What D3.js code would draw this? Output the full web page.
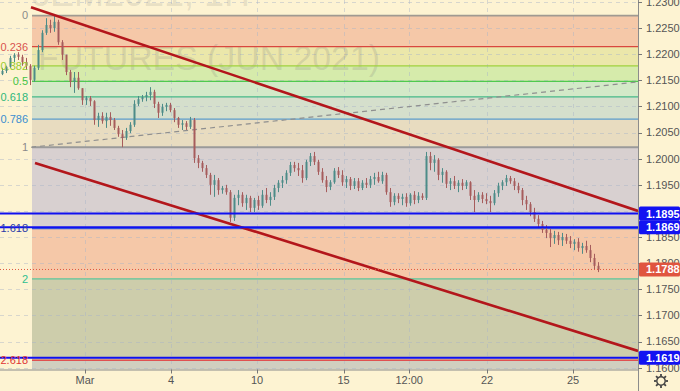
<!DOCTYPE html>
<html><head><meta charset="utf-8">
<script src="https://cdn.jsdelivr.net/npm/d3@7/dist/d3.min.js"></script>
<style>html,body{margin:0;padding:0;background:#fdf3d2;overflow:hidden}svg{display:block;font-family:"Liberation Sans",Arial,sans-serif}</style>
</head><body><svg id="c" width="680" height="391"></svg>
<script>
// ---------- data ----------
const closes=[1.2168,1.2176,1.2193,1.2199,1.2195,1.2185,1.2178,1.2151,1.2174,1.2208,
1.2241,1.2256,1.2250,1.2262,1.2223,1.2199,1.2166,1.2147,1.2155,1.2135,
1.2112,1.2116,1.2110,1.2074,1.2082,1.2072,1.2080,1.2074,1.2059,1.2047,
1.2040,1.2053,1.2065,1.2105,1.2114,1.2118,1.2122,1.2128,1.2105,1.2088,
1.2099,1.2103,1.2093,1.2078,1.2065,1.2068,1.2061,1.2074,1.2001,1.1992,
1.1982,1.1969,1.1950,1.1959,1.1940,1.1944,1.1936,1.1887,1.1925,1.1931,
1.1915,1.1925,1.1906,1.1921,1.1910,1.1931,1.1921,1.1927,1.1944,1.1954,
1.1959,1.1973,1.1988,1.1982,1.1978,1.1963,1.1994,1.2005,1.1994,1.1975,
1.1959,1.1946,1.1955,1.1977,1.1969,1.1955,1.1961,1.1948,1.1957,1.1944,
1.1954,1.1950,1.1961,1.1965,1.1957,1.1969,1.1936,1.1917,1.1929,1.1923,
1.1927,1.1915,1.1931,1.1921,1.1929,1.1925,1.2005,1.1992,1.1998,1.1969,
1.1975,1.1952,1.1957,1.1948,1.1954,1.1948,1.1955,1.1929,1.1921,1.1931,
1.1923,1.1919,1.1915,1.1934,1.1948,1.1955,1.1963,1.1957,1.1948,1.1940,
1.1921,1.1913,1.1898,1.1885,1.1875,1.1864,1.1858,1.1848,1.1854,1.1844,
1.1850,1.1843,1.1837,1.1841,1.1829,1.1833,1.1825,1.1810,1.1795,1.1788];
const opens=[1.2162,1.2168,1.2176,1.2193,1.2199,1.2195,1.2185,1.2178,1.2151,1.2174,
1.2208,1.2241,1.2256,1.2250,1.2262,1.2223,1.2199,1.2166,1.2147,1.2155,
1.2135,1.2112,1.2116,1.2110,1.2074,1.2082,1.2072,1.2080,1.2074,1.2059,
1.2047,1.2040,1.2053,1.2065,1.2105,1.2114,1.2118,1.2122,1.2128,1.2105,
1.2088,1.2099,1.2103,1.2093,1.2078,1.2065,1.2068,1.2061,1.2074,1.2001,
1.1992,1.1982,1.1969,1.1950,1.1959,1.1940,1.1944,1.1936,1.1887,1.1925,
1.1931,1.1915,1.1925,1.1906,1.1921,1.1910,1.1931,1.1921,1.1927,1.1944,
1.1954,1.1959,1.1973,1.1988,1.1982,1.1978,1.1963,1.1994,1.2005,1.1994,
1.1975,1.1959,1.1946,1.1955,1.1977,1.1969,1.1955,1.1961,1.1948,1.1957,
1.1944,1.1954,1.1950,1.1961,1.1965,1.1957,1.1969,1.1936,1.1917,1.1929,
1.1923,1.1927,1.1915,1.1931,1.1921,1.1929,1.1925,1.2005,1.1992,1.1998,
1.1969,1.1975,1.1952,1.1957,1.1948,1.1954,1.1948,1.1955,1.1929,1.1921,
1.1931,1.1923,1.1919,1.1915,1.1934,1.1948,1.1955,1.1963,1.1957,1.1948,
1.1940,1.1921,1.1913,1.1898,1.1885,1.1875,1.1864,1.1858,1.1848,1.1854,
1.1844,1.1850,1.1843,1.1837,1.1841,1.1829,1.1833,1.1825,1.1810,1.1795];
const highs=[1.2174,1.2178,1.2197,1.2202,1.2204,1.2199,1.2193,1.2181,1.2178,1.2218,
1.2246,1.2269,1.2266,1.2273,1.2266,1.2227,1.2199,1.2170,1.2166,1.2166,
1.2135,1.2120,1.2120,1.2112,1.2088,1.2089,1.2088,1.2089,1.2078,1.2063,
1.2055,1.2059,1.2070,1.2112,1.2120,1.2122,1.2128,1.2137,1.2132,1.2109,
1.2105,1.2107,1.2107,1.2097,1.2080,1.2074,1.2072,1.2080,1.2078,1.2007,
1.1996,1.1988,1.1973,1.1969,1.1963,1.1948,1.1950,1.1940,1.1931,1.1940,
1.1936,1.1931,1.1929,1.1925,1.1929,1.1940,1.1944,1.1936,1.1950,1.1959,
1.1967,1.1978,1.1994,1.1994,1.1992,1.1988,1.1998,1.2011,1.2013,1.1998,
1.1982,1.1967,1.1959,1.1982,1.1984,1.1978,1.1967,1.1965,1.1963,1.1963,
1.1959,1.1963,1.1967,1.1973,1.1975,1.1975,1.1973,1.1944,1.1934,1.1934,
1.1933,1.1934,1.1934,1.1938,1.1936,1.1934,1.2013,1.2013,1.2007,1.2001,
1.1982,1.1978,1.1963,1.1967,1.1959,1.1961,1.1959,1.1957,1.1940,1.1936,
1.1936,1.1934,1.1929,1.1940,1.1954,1.1959,1.1969,1.1967,1.1963,1.1954,
1.1944,1.1929,1.1917,1.1906,1.1892,1.1881,1.1873,1.1866,1.1862,1.1860,
1.1858,1.1856,1.1852,1.1846,1.1848,1.1839,1.1843,1.1835,1.1818,1.1802];
const lows=[1.2160,1.2164,1.2174,1.2185,1.2189,1.2178,1.2170,1.2141,1.2147,1.2170,
1.2204,1.2237,1.2241,1.2243,1.2218,1.2189,1.2160,1.2137,1.2126,1.2132,
1.2103,1.2103,1.2101,1.2065,1.2061,1.2067,1.2059,1.2063,1.2055,1.2042,
1.2022,1.2036,1.2049,1.2061,1.2101,1.2109,1.2110,1.2112,1.2097,1.2078,
1.2082,1.2091,1.2089,1.2070,1.2059,1.2055,1.2055,1.2057,1.1992,1.1982,
1.1975,1.1963,1.1931,1.1927,1.1931,1.1933,1.1931,1.1879,1.1881,1.1911,
1.1908,1.1902,1.1898,1.1898,1.1902,1.1906,1.1915,1.1910,1.1921,1.1936,
1.1944,1.1952,1.1967,1.1975,1.1967,1.1954,1.1959,1.1986,1.1988,1.1969,
1.1954,1.1936,1.1940,1.1952,1.1963,1.1948,1.1944,1.1940,1.1942,1.1938,
1.1940,1.1944,1.1944,1.1950,1.1954,1.1952,1.1931,1.1908,1.1911,1.1915,
1.1911,1.1908,1.1910,1.1913,1.1915,1.1921,1.1921,1.1978,1.1975,1.1959,
1.1954,1.1944,1.1940,1.1942,1.1936,1.1940,1.1942,1.1921,1.1898,1.1917,
1.1915,1.1913,1.1898,1.1911,1.1927,1.1940,1.1948,1.1952,1.1940,1.1934,
1.1911,1.1902,1.1890,1.1879,1.1867,1.1858,1.1848,1.1831,1.1837,1.1835,
1.1833,1.1837,1.1829,1.1825,1.1822,1.1818,1.1820,1.1802,1.1787,1.1783];

const priceTicks=[1.2300,1.2250,1.2200,1.2150,1.2100,1.2050,1.2000,1.1950,1.1900,1.1850,1.1800,1.1750,1.1700,1.1650,1.1600];
const timeTickBars=[20.75,42.25,63.75,85.4,101.8,121.25,142.75];
const timeTickLabels=["Mar","4","10","15","12:00","22","25"];

const fibHigh=1.2274, fibLow=1.2022, fibStartBar=7.5;
const fibLevels=[0,0.236,0.382,0.5,0.618,0.786,1,1.618,2,2.618];
const fibLabels=["0","0.236","0.382","0.5","0.618","0.786","1","1.618","2","2.618"];
const fibLineColors=["#a09a92","#d9473f","#9fd13c","#4fc94f","#44b888","#5a9ccc","#9a9a9a","#3d5fd8","#5cc49a","#e05050"];
const fibTextColors=["#8a8a8a","#d9534f","#9acb2e","#44c444","#2eb87a","#3a8ed0","#8a8a8a","#2a3aa8","#2ec090","#e03434"];
const fibZoneFills=["#f5c8a8","#ebe7aa","#d6ebab","#d3e9c8","#d5dfcc","#e8dcc0","#d8d0d0","#f5c8a8","#cdcdab","#d0cec0"];

const channelUpper=[[7.25,1.2290],[159,1.1900]];
const channelLower=[[8.25,1.1992],[159,1.1632]];
const dashedTrend=[[7.25,1.2022],[159,1.2147]];
const blueLevels=[1.1895,1.1869,1.1619];
const lastPrice=1.1788;
const watermark1="6EM2021, 1H", watermark2="FUTURES (JUN 2021)";

// ---------- layout ----------
const W=680,H=391, plotR=638, plotB=369.5;
const svg=d3.select("#c");
const x=d3.scaleLinear().domain([0,149]).range([2,598]);
const y=d3.scaleLinear().domain([1.16,1.23]).range([367.7,2]);

svg.append("rect").attr("width",W).attr("height",H).attr("fill","#fdf3d2");
svg.append("defs").append("clipPath").attr("id","pc").append("rect").attr("x",0).attr("y",0).attr("width",plotR).attr("height",plotB);
const g=svg.append("g").attr("clip-path","url(#pc)");

const fibPrice=l=>fibHigh-(fibHigh-fibLow)*l;
const fx0=x(fibStartBar);
fibLevels.forEach((l,i)=>{
  const top=y(fibPrice(l));
  const bot= i<fibLevels.length-1 ? y(fibPrice(fibLevels[i+1])) : plotB;
  g.append("rect").attr("x",fx0).attr("y",top).attr("width",plotR-fx0).attr("height",bot-top).attr("fill",fibZoneFills[i]);
});

const grid=g.append("g").attr("stroke","#a9b3c8").attr("stroke-opacity",0.45).attr("stroke-dasharray","4,4").attr("stroke-width",1);
priceTicks.forEach(p=>grid.append("line").attr("x1",0).attr("x2",plotR).attr("y1",Math.round(y(p))+0.5).attr("y2",Math.round(y(p))+0.5));
timeTickBars.forEach(b=>grid.append("line").attr("y1",0).attr("y2",plotB).attr("x1",Math.round(x(b))+0.5).attr("x2",Math.round(x(b))+0.5));

// watermark (top line mostly cut off by the top edge, as in the reference)
g.append("text").attr("x",140).attr("y",6).attr("text-anchor","middle").attr("font-size",36).attr("fill","#7a7a7a").attr("fill-opacity",0.18).text(watermark1);
g.append("text").attr("x",38).attr("y",70).attr("font-size",35).attr("textLength",342).attr("lengthAdjust","spacingAndGlyphs").attr("fill","#7a7a7a").attr("fill-opacity",0.2).text(watermark2);

fibLevels.forEach((l,i)=>{
  const yy=y(fibPrice(l));
  g.append("line").attr("x1",fx0).attr("x2",plotR).attr("y1",yy).attr("y2",yy).attr("stroke",fibLineColors[i]).attr("stroke-width",(i===0||i===6)?1.8:1.3);
});

const line=d3.line().x(d=>x(d[0])).y(d=>y(d[1]));
g.append("path").attr("d",line(dashedTrend)).attr("stroke","#8f8f8f").attr("stroke-width",1.2).attr("stroke-dasharray","5,4").attr("fill","none");

const up="#4d8c88", dn="#a65c5c";
closes.forEach((c,i)=>{
  const o=opens[i], cx=Math.round(x(i));
  const col=c>=o?up:dn;
  g.append("line").attr("x1",cx+0.5).attr("x2",cx+0.5).attr("y1",y(highs[i])).attr("y2",y(lows[i])).attr("stroke",col).attr("stroke-width",1);
  const t=y(Math.max(o,c)), b=y(Math.min(o,c));
  g.append("rect").attr("x",cx-0.5).attr("y",t).attr("width",2).attr("height",Math.max(1,b-t)).attr("fill",col);
});

[channelUpper,channelLower].forEach(d=>g.append("path").attr("d",line(d)).attr("stroke","#b3161b").attr("stroke-width",2.6).attr("fill","none"));

blueLevels.forEach(p=>g.append("line").attr("x1",0).attr("x2",plotR).attr("y1",y(p)).attr("y2",y(p)).attr("stroke","#1010f0").attr("stroke-width",2));

g.append("line").attr("x1",0).attr("x2",plotR).attr("y1",y(lastPrice)).attr("y2",y(lastPrice)).attr("stroke","#e0583f").attr("stroke-width",1).attr("stroke-dasharray","1,2");

fibLevels.forEach((l,i)=>{
  svg.append("text").attr("x",28).attr("y",y(fibPrice(l))).attr("dy","0.35em").attr("text-anchor","end").attr("font-size",11).attr("fill",fibTextColors[i]).text(fibLabels[i]);
});

// axes
svg.append("line").attr("x1",plotR+0.5).attr("x2",plotR+0.5).attr("y1",0).attr("y2",H).attr("stroke","#8c8c8c");
svg.append("line").attr("x1",0).attr("x2",plotR).attr("y1",plotB+0.5).attr("y2",plotB+0.5).attr("stroke","#8c8c8c");
const tagPrices=[lastPrice].concat(blueLevels);
priceTicks.forEach(p=>{
  const yy=Math.round(y(p))+0.5;
  svg.append("line").attr("x1",plotR).attr("x2",plotR+4).attr("y1",yy).attr("y2",yy).attr("stroke","#777");
  // labels fully hidden behind a price tag in the reference are not drawn
  if(tagPrices.some(t=>Math.abs(y(t)-y(p))<5)) return;
  svg.append("text").attr("x",646).attr("y",y(p)).attr("dy","0.35em").attr("font-size",11).attr("fill","#555").text(d3.format(".4f")(p));
});
timeTickBars.forEach((b,i)=>{
  const xx=Math.round(x(b))+0.5;
  svg.append("line").attr("x1",xx).attr("x2",xx).attr("y1",plotB).attr("y2",plotB+4).attr("stroke","#777");
  svg.append("text").attr("x",x(b)).attr("y",384).attr("text-anchor","middle").attr("font-size",11).attr("fill","#555").text(timeTickLabels[i]);
});

function tag(p,color){
  const yy=y(p);
  svg.append("rect").attr("x",plotR+1).attr("y",yy-7).attr("width",W-plotR-1).attr("height",14).attr("rx",1.5).attr("fill",color);
  svg.append("text").attr("x",646).attr("y",yy).attr("dy","0.36em").attr("font-size",11).attr("font-weight","bold").attr("fill","#fff").text(d3.format(".4f")(p));
}
tag(lastPrice,"#e0553f");
blueLevels.forEach(p=>tag(p,"#1212f2"));

const gear=svg.append("g").attr("transform","translate(661,381)").attr("stroke","#444").attr("fill","none");
gear.append("circle").attr("r",4.2).attr("stroke-width",1.4);
d3.range(8).forEach(k=>{const a=k*Math.PI/4;gear.append("line").attr("x1",4.5*Math.cos(a)).attr("y1",4.5*Math.sin(a)).attr("x2",7*Math.cos(a)).attr("y2",7*Math.sin(a)).attr("stroke-width",1.8);});
</script></body></html>
